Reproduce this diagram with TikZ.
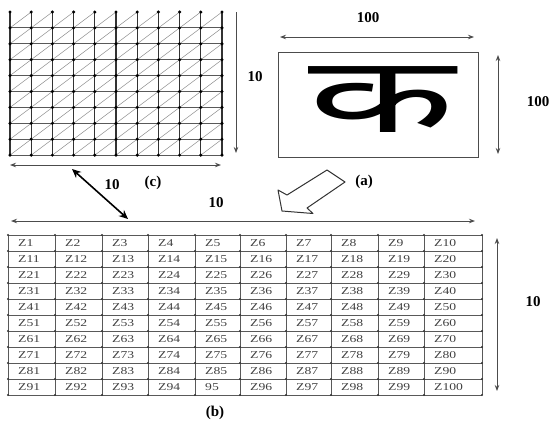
\documentclass[tikz,border=0pt]{standalone}
\usepackage{fontspec}
\setmainfont{Liberation Serif}
\newfontfamily\deva[Script=Devanagari]{Noto Sans}
\usetikzlibrary{arrows.meta}
\begin{document}
\begin{tikzpicture}[x=1pt,y=-1pt,
  dimline/.style={draw=black!70, line width=0.9pt, {Stealth[length=6pt,width=4.5pt]}-{Stealth[length=6pt,width=4.5pt]}},
  dimone/.style={draw=black!70, line width=0.9pt, -{Stealth[length=6pt,width=4.5pt]}},
  bigdim/.style={draw=black, line width=1.6pt, {Stealth[length=9pt,width=8pt]}-{Stealth[length=9pt,width=8pt]}},
  lbl/.style={font=\fontsize{15}{15}\selectfont\bfseries, inner sep=0pt},
  cellt/.style={font=\fontsize{10.5}{11}\selectfont, text=black!75, anchor=west, inner sep=0pt},
  hatch/.style={draw=black!45, line width=0.5pt},
  gridh/.style={draw=black!65, line width=1pt},
  gridv/.style={draw=black!80, line width=1.3pt},
  tabline/.style={draw=black!65, line width=0.9pt},
  frame/.style={draw=black!70, line width=1pt}]
\useasboundingbox (0,0) rectangle (560,424);

% ---------- grid (c)
\foreach \i in {0,...,9}
  \foreach \j in {0,...,8}
    \draw[hatch] ({10+\i*21.2},{12+(\j+1)*15.9}) -- ({10+(\i+1)*21.2},{12+\j*15.9});
\foreach \j in {1,...,9}
  \draw[gridh] (10,{12+\j*15.9}) -- (222,{12+\j*15.9});
\foreach \i in {0,...,10}
  \draw[gridv] ({10+\i*21.2},12) -- ({10+\i*21.2},155);
\foreach \i in {0,...,10}
  \foreach \j in {0,...,9}
    \fill[black] ({10+\i*21.2},{12+\j*15.9}) circle (1.7);

\coordinate (cvT) at (236,12);
\coordinate (cvB) at (236,153);
\draw[dimone] (cvT) -- (cvB);
\node[lbl] (lc1) at (255,77) {10};

\coordinate (chL) at (10,165);
\coordinate (chR) at (221,165);
\draw[dimline] (chL) -- (chR);
\node[lbl] (lcc) at (153,183) {(c)};

\coordinate (dA) at (72,169);
\coordinate (dB) at (128,219);
\draw[bigdim] (dA) -- (dB);
\node[lbl] (lc2) at (112,185) {10};
\node[lbl] (lc3) at (216,203) {10};

\coordinate (lL) at (11,221);
\coordinate (lR) at (475,221);
\draw[dimline] (lL) -- (lR);

% ---------- box (a)
\node[frame, minimum width=200pt, minimum height=105pt, inner sep=0pt] (boxa) at (378,104.5) {};
\node[inner sep=0pt] (ka) at (382,100) {\scalebox{1.8}[1]{\deva\bfseries\fontsize{106}{106}\selectfont क}};
\coordinate (atL) at (280,37);
\coordinate (atR) at (474,37);
\draw[dimline] (atL) -- (atR);
\node[lbl] (la1) at (368,18) {100};
\coordinate (arT) at (498,55);
\coordinate (arB) at (498,154);
\draw[dimline] (arT) -- (arB);
\node[lbl] (la2) at (538,102) {100};

\draw[draw=black!80, line width=1pt, fill=white, line join=round]
  (327,170) -- (345,182) -- (307,208) -- (313,213.5) -- (282,211) -- (278,190) -- (287,195) -- cycle;
\node[lbl] (lab) at (364,182) {(a)};

% ---------- table (b)
\foreach \xx in {8,55,102,148,195,240,286,331,378,424,482}
  \draw[tabline] (\xx,235) -- (\xx,395);
\foreach \r in {0,...,10}
  \draw[tabline] (8,{235+16*\r}) -- (482,{235+16*\r});
\foreach \xx in {8,55,102,148,195,240,286,331,378,424,482}
  \foreach \r in {0,...,10}
    \fill[black!80] (\xx,{235+16*\r}) circle (1.1);
\foreach \xx [count=\c from 0] in {8,55,102,148,195,240,286,331,378,424}
  \foreach \r in {0,...,9}{
    \pgfmathtruncatemacro\nn{10*\r+\c+1}
    \ifnum\nn=95
      \node[cellt] (cell-\r-\c) at ({\xx+10},{243+16*\r}) {\scalebox{1.3}[1]{95}};
    \else
      \node[cellt] (cell-\r-\c) at ({\xx+10},{243+16*\r}) {\scalebox{1.3}[1]{Z\nn}};
    \fi
  }
\coordinate (brT) at (497,238);
\coordinate (brB) at (497,391);
\draw[dimline] (brT) -- (brB);
\node[lbl] (lb1) at (533,302) {10};
\node[lbl] (lbb) at (215,413) {(b)};
\end{tikzpicture}
\end{document}
